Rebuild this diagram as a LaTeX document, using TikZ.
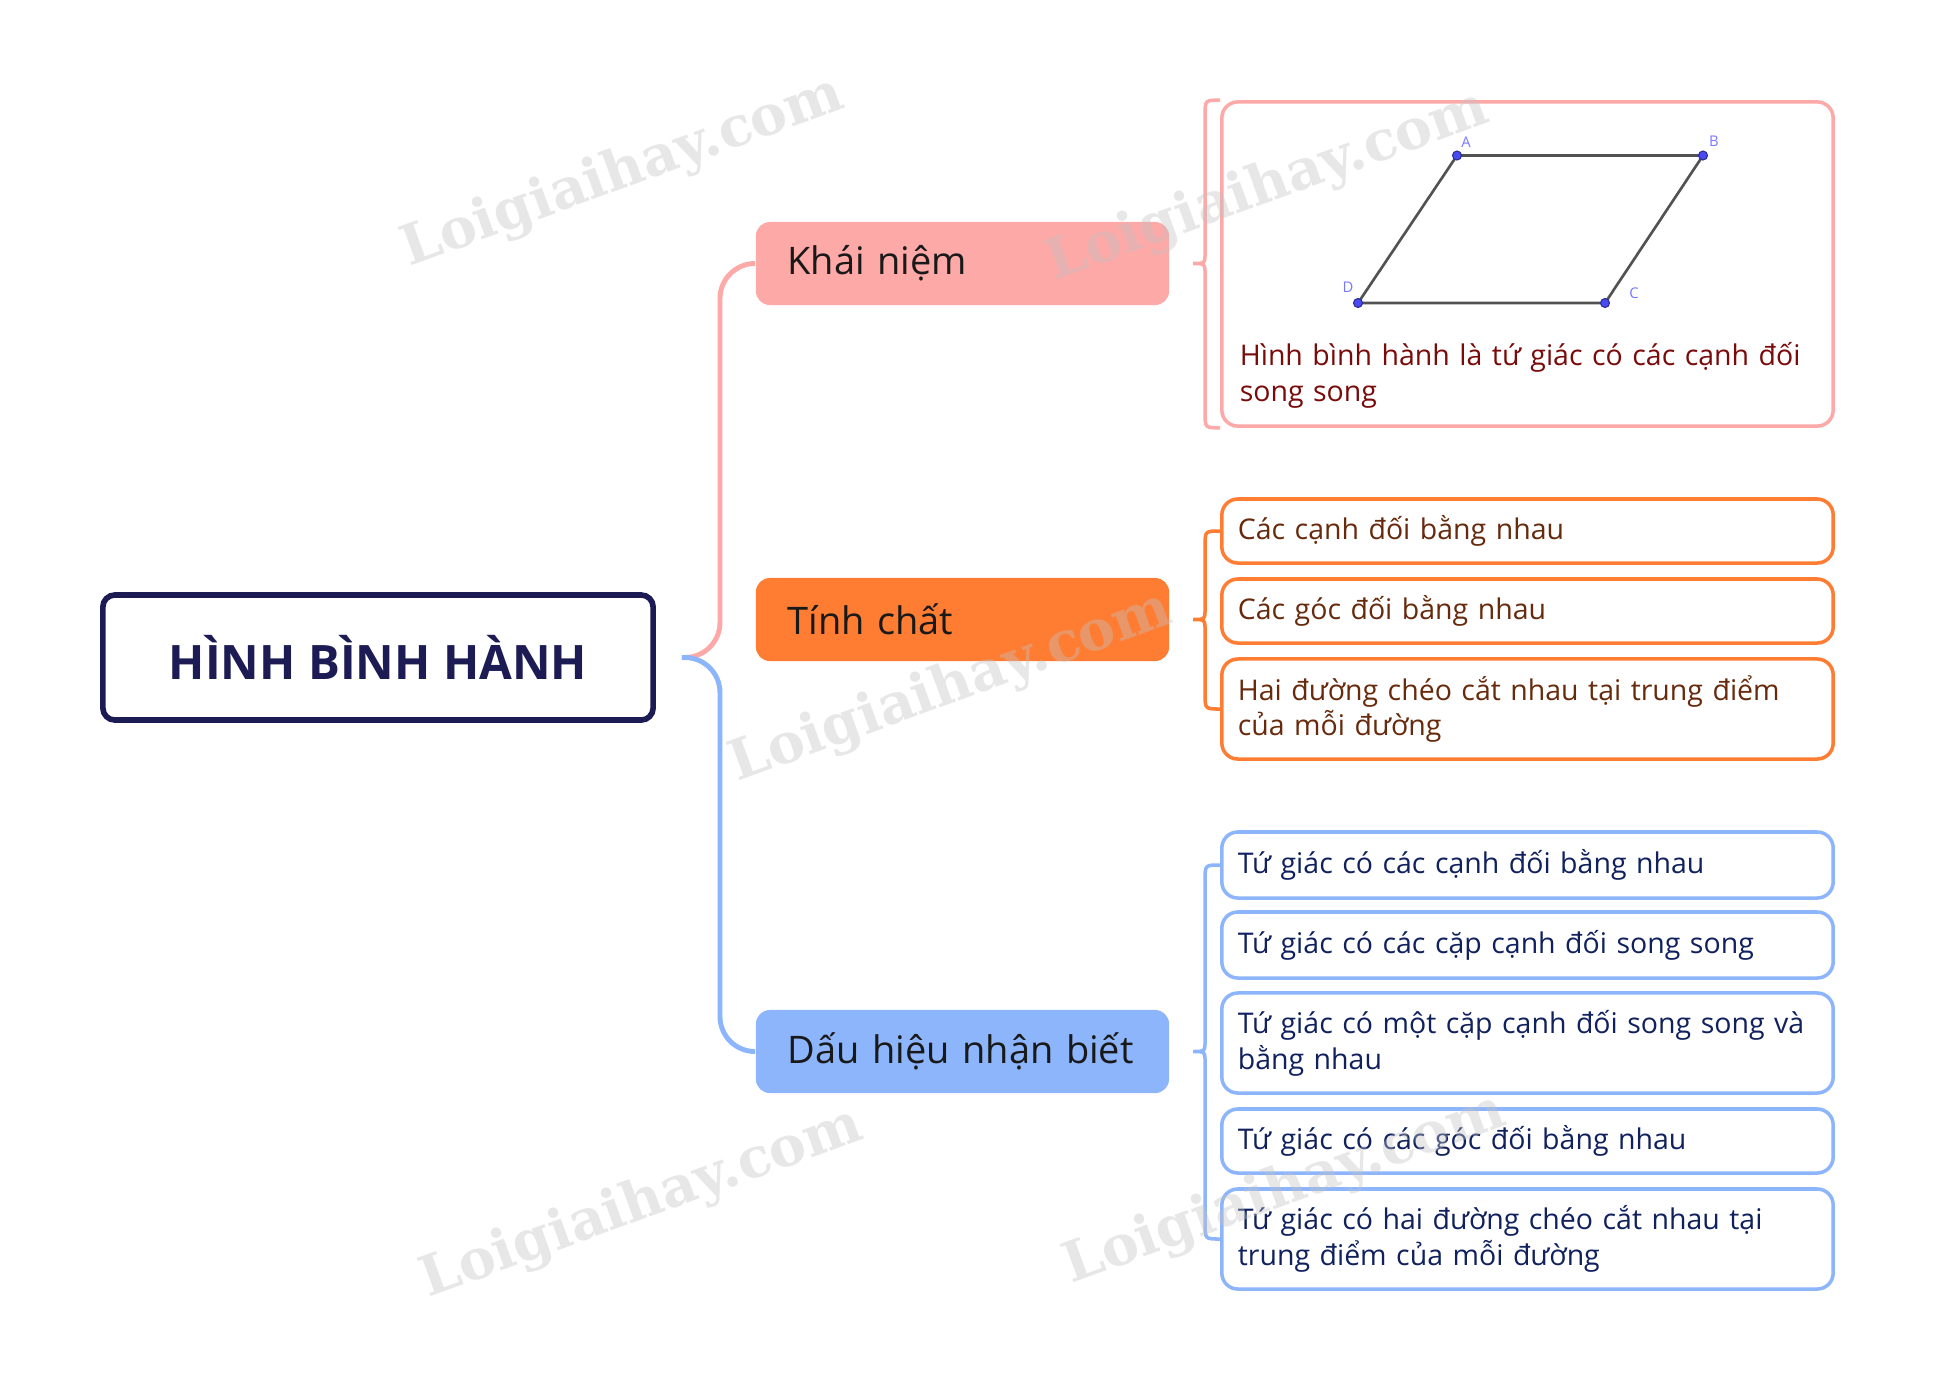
\documentclass[tikz,border=0pt]{standalone}
\usepackage{fontspec}
\setmainfont{Open Sans}
\newfontfamily\markfont{DejaVu Serif}
\usetikzlibrary{calc}

\definecolor{pinkc}{HTML}{FDA9A8}
\definecolor{orangec}{HTML}{FF7D33}
\definecolor{bluec}{HTML}{8DB5FC}
\definecolor{navyc}{HTML}{1C1B54}
\definecolor{pinktext}{HTML}{7A0B0B}
\definecolor{orangetext}{HTML}{682A0C}
\definecolor{bluetext}{HTML}{10215E}
\definecolor{ptblue}{HTML}{4A4AF5}
\definecolor{ptlabel}{HTML}{7878FF}

\tikzstyle{root}=[rectangle, rounded corners=0.12cm, draw=navyc, line width=1.6pt, text=navyc, minimum width=5.5cm, minimum height=1.25cm, font=\fontsize{13.5}{16}\selectfont\bfseries]
\tikzstyle{branch}=[rectangle, rounded corners=0.14cm, minimum width=4.13cm, minimum height=0.83cm, text width=3.5cm, inner xsep=0.315cm, align=left, text=black!90, font=\fontsize{10.8}{13}\selectfont]
\tikzstyle{leaf}=[rectangle, rounded corners=0.16cm, fill=white, line width=1pt, text width=5.79cm, inner xsep=0.16cm, minimum height=0.64cm, align=left, font=\fontsize{8.1}{10.2}\selectfont]
\tikzstyle{trunk}=[line width=1.4pt, rounded corners=0.35cm]
\tikzstyle{bracket}=[line width=1pt]
\tikzstyle{dot}=[circle, fill=ptblue, draw=ptblue!60!black, line width=0.3pt, inner sep=0pt, minimum size=0.09cm]
\tikzstyle{ptlab}=[text=ptlabel, inner sep=0pt, font=\fontsize{4.2}{5}\selectfont]
\tikzstyle{wmark}=[rotate=20, text=black!24, opacity=0.38, font=\markfont\bfseries\fontsize{15.8}{18}\selectfont]

% brace from first to last child, tip at the parent's height
\newcommand{\drawbrace}[4]
{
  \draw[bracket, #1] (#2) .. controls +(-15,0) and +(0,-15) .. ($(#2)+(-15,15)$)
    -- ($(#2 |- #4)+(-15,-12)$) .. controls +(0,12) and +(12,0) .. ($(#2 |- #4)+(-27,0)$)
    .. controls +(12,0) and +(0,-12) .. ($(#2 |- #4)+(-15,12)$)
    -- ($(#3)+(-15,-15)$) .. controls +(0,15) and +(-15,0) .. (#3);
}

\begin{document}
\begin{tikzpicture}[x=0.01cm, y=-0.01cm]
	\fill[white] (0,0) rectangle (1936,1372);
	\useasboundingbox (0,0) rectangle (1936,1372);

	\node[root] (title) at (378,657.5) {HÌNH BÌNH HÀNH};

	\node[branch, fill=pinkc] (kn) at (962.5,263.5) {Khái niệm};
	\node[branch, fill=orangec] (tc) at (962.5,619.5) {Tính chất};
	\node[branch, fill=bluec] (dh) at (962.5,1051.5) {Dấu hiệu nhận biết};

	\coordinate (hub) at ($(title.east)+(26,0)$);
	\draw[trunk, pinkc] (hub) -- ++(38,0) |- (kn.west);
	\draw[trunk, bluec] (hub) -- ++(38,0) |- (dh.west);

	% definition
	\node[leaf, draw=pinkc, minimum height=3.24cm] (def) at (1527.5,264) {};
	\node[leaf, fill=none, text=pinktext, anchor=west, inner xsep=0pt] (deftext) at (1238,375) {Hình bình hành là tứ giác có các cạnh đối\\song song};
	\coordinate (A) at (1457,155.5);
	\coordinate (B) at (1703,155.5);
	\coordinate (C) at (1605,303);
	\coordinate (D) at (1358,303);
	\draw[line width=0.75pt, black!68] (A) -- (B) -- (C) -- (D) -- cycle;
	\foreach \p in {A,B,C,D}
		\node[dot] (dot\p) at (\p) {};
	\node[ptlab] (labA) at (1466,142) {A};
	\node[ptlab] (labB) at (1714,141) {B};
	\node[ptlab] (labC) at (1634,293) {C};
	\node[ptlab] (labD) at (1348,287) {D};

	% properties
	\node[leaf, draw=orangec, text=orangetext] (p1) at (1527.5,531) {Các cạnh đối bằng nhau};
	\node[leaf, draw=orangec, text=orangetext] (p2) at (1527.5,611) {Các góc đối bằng nhau};
	\node[leaf, draw=orangec, text=orangetext, minimum height=1cm] (p3) at (1527.5,709) {Hai đường chéo cắt nhau tại trung điểm\\của mỗi đường};

	% signs
	\node[leaf, draw=bluec, text=bluetext, minimum height=0.66cm] (s1) at (1527.5,865) {Tứ giác có các cạnh đối bằng nhau};
	\node[leaf, draw=bluec, text=bluetext, minimum height=0.66cm] (s2) at (1527.5,945) {Tứ giác có các cặp cạnh đối song song};
	\node[leaf, draw=bluec, text=bluetext, minimum height=1cm] (s3) at (1527.5,1043) {Tứ giác có một cặp cạnh đối song song và\\bằng nhau};
	\node[leaf, draw=bluec, text=bluetext] (s4) at (1527.5,1141) {Tứ giác có các góc đối bằng nhau};
	\node[leaf, draw=bluec, text=bluetext, minimum height=1cm] (s5) at (1527.5,1239) {Tứ giác có hai đường chéo cắt nhau tại\\trung điểm của mỗi đường};

	\drawbrace{pinkc}{def.north west}{def.south west}{kn}
	\drawbrace{orangec}{p1.west}{p3.west}{tc}
	\drawbrace{bluec}{s1.west}{s5.west}{dh}

	% watermarks
	\node[wmark] (wm1) at (623,173) {Loigiaihay.com};
	\node[wmark] (wm2) at (1268,187) {Loigiaihay.com};
	\node[wmark] (wm3) at (951,688) {Loigiaihay.com};
	\node[wmark] (wm4) at (642,1204) {Loigiaihay.com};
	\node[wmark] (wm5) at (1285,1190) {Loigiaihay.com};

\end{tikzpicture}
\end{document}
